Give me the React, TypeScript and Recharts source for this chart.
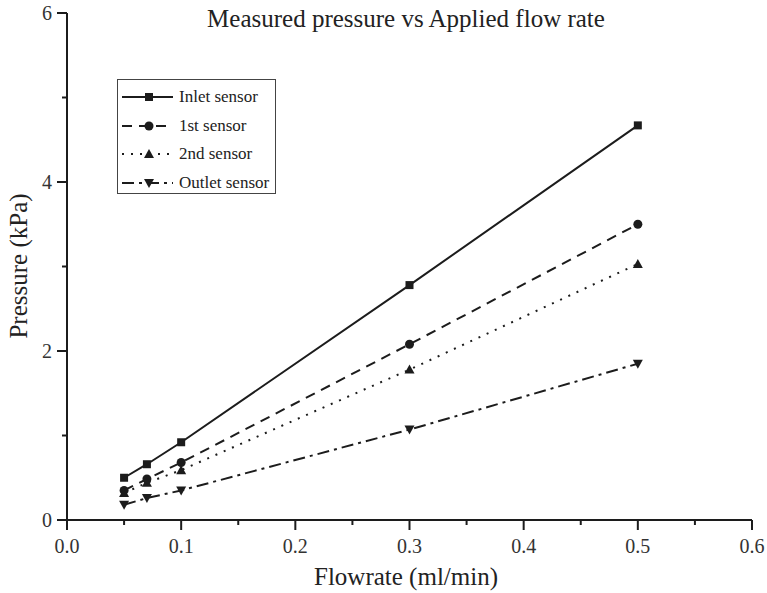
import React from 'react';
import { LineChart, Line, XAxis, YAxis, Label } from 'recharts';

const flowrates = [0.05, 0.07, 0.1, 0.3, 0.5];
const inletSensor = [0.5, 0.66, 0.92, 2.78, 4.67];
const firstSensor = [0.35, 0.485, 0.68, 2.08, 3.5];
const secondSensor = [0.32, 0.44, 0.59, 1.78, 3.03];
const outletSensor = [0.18, 0.26, 0.35, 1.07, 1.85];

const xTicks = [0, 0.05, 0.1, 0.15, 0.2, 0.25, 0.3, 0.35, 0.4, 0.45, 0.5, 0.55, 0.6];
const yTicks = [0, 1, 2, 3, 4, 5, 6];

const data = flowrates.map((f, i) => ({
  flow: f,
  inlet: inletSensor[i],
  first: firstSensor[i],
  second: secondSensor[i],
  outlet: outletSensor[i],
}));

const INK = '#1c1c1c';
const FONT = '"Liberation Serif", "Times New Roman", serif';

type Shape = 'square' | 'circle' | 'up' | 'down';

function Marker({ cx, cy, shape }: { cx: number; cy: number; shape: Shape }) {
  if (cx == null || cy == null) return null;
  if (shape === 'square') return <rect x={cx - 4} y={cy - 4} width={8} height={8} fill={INK} />;
  if (shape === 'circle') return <circle cx={cx} cy={cy} r={4.5} fill={INK} />;
  if (shape === 'up')
    return <polygon points={`${cx},${cy - 5} ${cx - 5},${cy + 4} ${cx + 5},${cy + 4}`} fill={INK} />;
  return <polygon points={`${cx},${cy + 5} ${cx - 5},${cy - 4} ${cx + 5},${cy - 4}`} fill={INK} />;
}

const series = [
  { key: 'inlet', name: 'Inlet sensor', dash: undefined, shape: 'square' as Shape },
  { key: 'first', name: '1st sensor', dash: '10 7', shape: 'circle' as Shape },
  { key: 'second', name: '2nd sensor', dash: '2 7', shape: 'up' as Shape },
  { key: 'outlet', name: 'Outlet sensor', dash: '12 5 3 5', shape: 'down' as Shape },
];

const XTick = (props: any) => {
  const { x, y, payload } = props;
  const v = payload.value as number;
  const major = Math.round(v * 100) % 10 === 0;
  return (
    <g>
      <line x1={x} y1={y} x2={x} y2={y + (major ? 10 : 5)} stroke={INK} strokeWidth={2} />
      {major && (
        <text x={x} y={y + 33} textAnchor="middle" fontSize={20} fontFamily={FONT} fill="#333">
          {v.toFixed(1)}
        </text>
      )}
    </g>
  );
};

const YTick = (props: any) => {
  const { x, y, payload } = props;
  const v = payload.value as number;
  const major = v % 2 === 0;
  return (
    <g>
      <line x1={x} y1={y} x2={x - (major ? 10 : 5)} y2={y} stroke={INK} strokeWidth={2} />
      {major && (
        <text x={x - 15} y={y + 7} textAnchor="end" fontSize={20} fontFamily={FONT} fill="#333">
          {v}
        </text>
      )}
    </g>
  );
};

const LegendBox = () => (
  <div
    style={{
      position: 'absolute',
      left: 117,
      top: 79,
      width: 159,
      height: 115,
      boxSizing: 'border-box',
      border: '1px solid #444',
      padding: '3px 0 0 4px',
      background: '#fff',
      fontFamily: FONT,
      fontSize: 17,
      color: '#222',
    }}
  >
    {series.map((s) => (
      <div key={s.key} style={{ display: 'flex', alignItems: 'center', height: 28.5 }}>
        <svg width={51} height={14} style={{ marginRight: 6, flex: 'none' }}>
          <line x1={0} y1={7} x2={51} y2={7} stroke={INK} strokeWidth={2} strokeDasharray={s.dash} />
          <Marker cx={27} cy={7} shape={s.shape} />
        </svg>
        <span style={{ whiteSpace: 'nowrap' }}>{s.name}</span>
      </div>
    ))}
  </div>
);

export default function App() {
  return (
    <div style={{ position: 'absolute', left: 0, top: 0, width: 767, height: 593, background: '#fff' }}>
      <LineChart width={767} height={593} data={data} margin={{ top: 13, right: 15, bottom: 0, left: 0 }}>
        <XAxis
          dataKey="flow"
          type="number"
          domain={[0, 0.6]}
          ticks={xTicks}
          interval={0}
          tickSize={0}
          tickMargin={0}
          tick={<XTick />}
          height={73}
          axisLine={{ stroke: INK, strokeWidth: 2 }}
        >
          <Label
            content={() => (
              <text x={406} y={585} textAnchor="middle" fontSize={25} fontFamily={FONT} fill="#222">
                Flowrate (ml/min)
              </text>
            )}
          />
        </XAxis>
        <YAxis
          type="number"
          domain={[0, 6]}
          ticks={yTicks}
          interval={0}
          tickSize={0}
          tickMargin={0}
          tick={<YTick />}
          width={67}
          axisLine={{ stroke: INK, strokeWidth: 2 }}
        >
          <Label
            content={() => (
              <text
                x={27}
                y={266}
                textAnchor="middle"
                fontSize={25}
                fontFamily={FONT}
                fill="#222"
                transform="rotate(-90 27 266)"
              >
                Pressure (kPa)
              </text>
            )}
          />
        </YAxis>
        {series.map((s) => (
          <Line
            key={s.key}
            dataKey={s.key}
            name={s.name}
            type="linear"
            stroke={INK}
            strokeWidth={2}
            strokeDasharray={s.dash}
            dot={(p: any) => <Marker key={`${s.key}-${p.index}`} cx={p.cx} cy={p.cy} shape={s.shape} />}
            activeDot={false}
            isAnimationActive={false}
          />
        ))}
      </LineChart>
      <svg width={767} height={40} style={{ position: 'absolute', left: 0, top: 0 }}>
        <text x={406} y={27} textAnchor="middle" fontSize={25} fontFamily={FONT} fill="#222">
          Measured pressure vs Applied flow rate
        </text>
      </svg>
      <LegendBox />
    </div>
  );
}
